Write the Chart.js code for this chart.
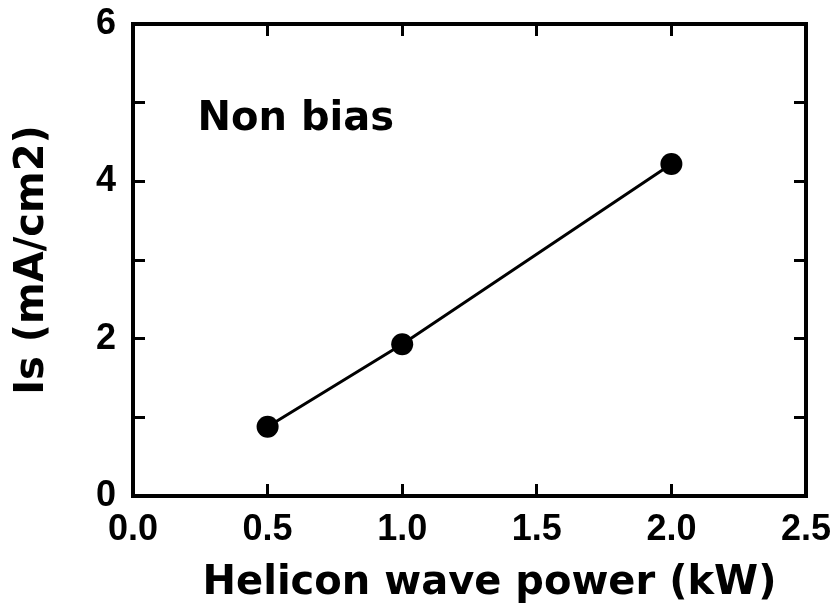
<!DOCTYPE html>
<html>
<head>
<meta charset="utf-8">
<script src="https://cdn.jsdelivr.net/npm/chart.js@4"></script>
<style>
  html, body { margin: 0; padding: 0; background: #fff; }
  #wrap { width: 832px; height: 614px; }
</style>
</head>
<body>
<div id="wrap"><canvas id="grafico"></canvas></div>
<script>
// datos
const potencia = [0.5, 1.0, 2.0];        // kW
const corrienteIs = [0.88, 1.93, 4.22];  // mA/cm2
const xTicks = [0.0, 0.5, 1.0, 1.5, 2.0, 2.5];
const yTicks = [0, 2, 4, 6];
const etiqueta = 'Non bias';
const etiquetaPos = { x: 0.24, y: 4.78 };

const fuenteTitulo = { family: 'DejaVu Sans', weight: 'bold', size: 40 };
const fuenteTicks = { family: 'Liberation Sans', weight: 'bold', size: 36 };

// texto "Non bias" dentro del area
const textoPlugin = {
    id: 'textoPlugin',
    afterDatasetsDraw(chart) {
        const ctx = chart.ctx;
        const px = chart.scales.x.getPixelForValue(etiquetaPos.x);
        const py = chart.scales.y.getPixelForValue(etiquetaPos.y);
        ctx.save();
        ctx.font = 'bold 40px "DejaVu Sans"';
        ctx.fillStyle = '#000';
        ctx.textAlign = 'left';
        ctx.textBaseline = 'middle';
        ctx.fillText(etiqueta, px, py);
        ctx.restore();
    }
};

// quitar el relleno que Chart.js deja para las etiquetas de los extremos
function sinRelleno(s) {
    s.paddingLeft = 0; s.paddingRight = 0;
    s.paddingTop = 0; s.paddingBottom = 0;
}

const bordeEje = { display: true, color: '#000', width: 4 };
const rejilla = { drawOnChartArea: false, drawTicks: true, tickLength: -12, color: '#000', lineWidth: 3 };

new Chart(document.getElementById('grafico'), {
    type: 'line',
    data: {
        datasets: [{
            data: potencia.map((p, i) => ({ x: p, y: corrienteIs[i] })),
            borderColor: '#000',
            backgroundColor: '#000',
            borderWidth: 3,
            pointRadius: 11,
            pointBackgroundColor: '#000',
            pointBorderWidth: 0,
            tension: 0
        }]
    },
    options: {
        responsive: true,
        maintainAspectRatio: false,
        animation: false,
        layout: { padding: 0 },
        plugins: { legend: { display: false }, tooltip: { enabled: false } },
        scales: {
            x: {
                type: 'linear', position: 'bottom', min: 0, max: 2.5,
                border: bordeEje, grid: rejilla,
                afterBuildTicks: s => { s.ticks = xTicks.map(v => ({ value: v })); },
                afterFit: s => { s.height = 118; sinRelleno(s); },
                ticks: {
                    color: '#000', font: fuenteTicks, padding: 24, maxRotation: 0,
                    callback: v => Number(v).toFixed(1)
                },
                title: {
                    // espacio inicial para correr el titulo un poco a la derecha
                    display: true, text: '\u2003Helicon wave power (kW)', color: '#000',
                    font: fuenteTitulo, padding: { top: 0, bottom: 6 }
                }
            },
            x2: {
                type: 'linear', position: 'top', min: 0, max: 2.5,
                border: bordeEje, grid: rejilla,
                afterBuildTicks: s => { s.ticks = xTicks.map(v => ({ value: v })); },
                afterFit: s => { s.height = 24; sinRelleno(s); },
                ticks: { display: false }
            },
            y: {
                type: 'linear', position: 'left', min: 0, max: 6,
                border: bordeEje, grid: rejilla,
                afterFit: s => { s.width = 133; sinRelleno(s); },
                ticks: {
                    stepSize: 1, color: '#000', font: fuenteTicks, padding: 29,
                    callback: v => yTicks.includes(v) ? String(v) : ''
                },
                title: {
                    display: true, text: 'Is (mA/cm2)', color: '#000',
                    font: fuenteTitulo, padding: { top: 9, bottom: 0 }
                }
            },
            y2: {
                type: 'linear', position: 'right', min: 0, max: 6,
                border: bordeEje, grid: rejilla,
                afterFit: s => { s.width = 26; sinRelleno(s); },
                ticks: { display: false, stepSize: 1 }
            }
        }
    },
    plugins: [textoPlugin]
});
</script>
</body>
</html>
